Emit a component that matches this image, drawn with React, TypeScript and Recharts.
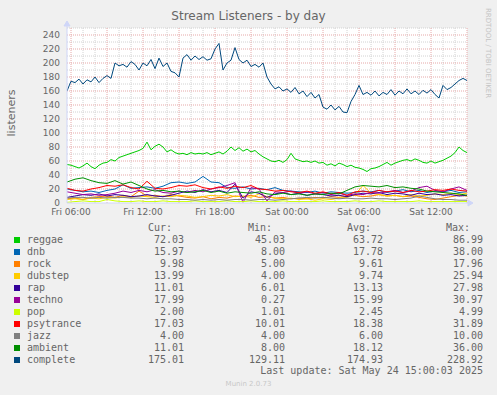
import React from 'react';
import { LineChart, Line, XAxis, YAxis, CartesianGrid, ReferenceLine, ReferenceDot } from 'recharts';

const W = 497;
const H = 395;

// time axis in hours since Fri 00:00; graph runs Fri 05:40 -> Sat 15:00
const startHour = 5 + 40 / 60;
const endHour = 39;

const xTicks = [6, 12, 18, 24, 30, 36];
const xTickLabels = ['Fri 06:00', 'Fri 12:00', 'Fri 18:00', 'Sat 00:00', 'Sat 06:00', 'Sat 12:00'];
const yTicks = [0, 20, 40, 60, 80, 100, 120, 140, 160, 180, 200, 220, 240];

// 20 minute samples
const complete = [
  160, 174, 172, 177, 170, 176, 173, 180, 172, 178,
  182, 178, 200, 196, 198, 194, 202, 198, 190, 200,
  196, 205, 192, 207, 195, 200, 188, 186, 180, 207,
  212, 204, 210, 205, 209, 204, 206, 220, 228, 190,
  200, 204, 222, 205, 200, 204, 195, 198, 194, 200,
  180, 170, 163, 166, 160, 163, 158, 165, 156, 160,
  152, 158, 150, 155, 137, 134, 140, 133, 138, 130,
  129, 145, 155, 168, 155, 158, 154, 160, 153, 158,
  155, 162, 154, 160, 156, 163, 156, 160, 155, 161,
  157, 162, 155, 150, 168, 162, 165, 170, 175, 178,
  175,
];
const reggae = [
  55, 54, 52, 50, 53, 57, 52, 49, 54, 57,
  58, 62, 60, 65, 67, 69, 71, 73, 75, 78,
  87, 76, 81, 84, 80, 73, 76, 72, 70, 71,
  69, 72, 70, 71, 70, 72, 69, 71, 73, 70,
  74, 80, 75, 79, 74, 77, 73, 75, 70, 66,
  63, 60, 59, 61, 58, 62, 71, 63, 61, 59,
  60, 58, 60, 57, 58, 54, 56, 53, 57, 55,
  52, 54, 51, 50, 48, 45, 49, 50, 52, 55,
  58, 54, 57, 59, 61, 62, 60, 63, 61, 58,
  57, 60, 57, 59, 61, 64, 67, 72, 80, 75,
  72,
];

// 40 minute samples
const dnb = [
  20, 18, 16, 17, 15, 18, 20, 26, 21, 22, 23, 21, 24, 29, 30, 28, 30, 38, 30, 29,
  22, 21, 23, 20, 21, 19, 22, 18, 17, 16, 15, 17, 14, 16, 15, 14, 15, 17, 16, 18,
  15, 17, 19, 16, 18, 15, 17, 16, 18, 15, 16,
];
const rock = [
  6, 7, 5, 8, 9, 10, 8, 11, 9, 17, 10, 11, 9, 12, 10, 8, 7, 9, 6, 8,
  7, 10, 9, 11, 8, 9, 7, 8, 6, 7, 6, 8, 7, 9, 8, 10, 11, 9, 10, 12,
  10, 11, 9, 10, 8, 6, 5, 7, 9, 11, 10,
];
const dubstep = [
  5, 6, 5, 7, 6, 8, 7, 9, 8, 10, 9, 8, 10, 9, 11, 10, 8, 9, 11, 10,
  12, 9, 10, 8, 13, 9, 7, 6, 7, 5, 6, 4, 6, 5, 7, 8, 12, 25, 14, 12,
  10, 11, 9, 12, 10, 11, 13, 12, 14, 12, 14,
];
const rap = [
  8, 10, 12, 11, 13, 10, 12, 11, 9, 10, 12, 10, 9, 11, 14, 17, 15, 19, 16, 18,
  15, 27, 7, 16, 14, 8, 13, 15, 12, 14, 11, 13, 12, 10, 11, 9, 12, 14, 13, 15,
  12, 14, 13, 11, 14, 12, 13, 11, 12, 10, 11,
];
const techno = [
  16, 14, 12, 13, 11, 12, 14, 17, 15, 18, 16, 19, 15, 14, 17, 15, 18, 16, 20, 22,
  25, 29, 1, 22, 20, 3, 16, 15, 17, 14, 16, 13, 15, 12, 14, 11, 13, 12, 15, 14,
  16, 18, 15, 17, 22, 24, 18, 16, 20, 23, 18,
];
const pop = [
  1, 2, 3, 2, 2, 5, 3, 2, 2, 3, 2, 2, 3, 2, 2, 2, 3, 2, 2, 2,
  3, 2, 2, 3, 2, 2, 2, 3, 2, 2, 2, 2, 3, 2, 2, 2, 3, 2, 2, 3,
  2, 2, 2, 2, 3, 2, 2, 2, 2, 2, 2,
];
const psytrance = [
  21, 18, 17, 20, 22, 25, 24, 26, 22, 20, 31, 21, 20, 22, 25, 24, 26, 22, 20, 23,
  21, 24, 22, 25, 20, 19, 17, 18, 16, 15, 17, 14, 16, 13, 15, 11, 16, 17, 15, 18,
  16, 17, 15, 18, 16, 17, 19, 18, 20, 18, 17,
];
const jazz = [
  7, 8, 8, 7, 8, 7, 8, 8, 7, 7, 6, 7, 6, 6, 5, 5, 4, 5, 4, 5,
  4, 5, 5, 4, 5, 5, 4, 5, 6, 7, 8, 7, 8, 7, 6, 7, 6, 6, 7, 6,
  6, 5, 6, 7, 10, 8, 6, 5, 5, 4, 4,
];
const ambient = [
  30, 34, 36, 32, 29, 28, 32, 27, 30, 25, 20, 17, 18, 16, 17, 15, 16, 18, 15, 17,
  14, 16, 15, 14, 16, 13, 12, 14, 12, 13, 11, 13, 12, 14, 13, 18, 23, 25, 24, 23,
  25, 22, 23, 21, 20, 17, 16, 15, 14, 13, 11,
];

const seriesNames = ['reggae', 'dnb', 'rock', 'dubstep', 'rap', 'techno', 'pop', 'psytrance', 'jazz', 'ambient', 'complete'];
const seriesColors = ['#00CC00', '#0066B3', '#FF8000', '#FFCC00', '#330099', '#990099', '#CCFF00', '#FF0000', '#808080', '#008F00', '#00487D'];
const curValues = ['72.03', '15.97', '9.98', '13.99', '11.01', '17.99', '2.00', '17.03', '4.00', '11.01', '175.01'];
const minValues = ['45.03', '8.00', '5.00', '4.00', '6.01', '0.27', '1.01', '10.01', '4.00', '8.00', '129.11'];
const avgValues = ['63.72', '17.78', '9.61', '9.74', '13.13', '15.99', '2.45', '18.38', '6.00', '18.12', '174.93'];
const maxValues = ['86.99', '38.00', '17.96', '25.94', '27.98', '30.97', '4.99', '31.89', '10.00', '36.00', '228.92'];

const coarse: Record<string, number[]> = { dnb, rock, dubstep, rap, techno, pop, psytrance, jazz, ambient };

const data = complete.map((v, i) => {
  const row: Record<string, number | null> = { t: startHour + i / 3, complete: v, reggae: reggae[i] };
  Object.keys(coarse).forEach((k) => {
    row[k] = i % 2 === 0 ? coarse[k][i / 2] : null;
  });
  return row;
});

const minorY: number[] = [];
for (let v = 10; v <= 250; v += 20) minorY.push(v);
const majorY = yTicks.filter((v) => v > 0);
const minorX: number[] = [];
const majorX: number[] = [];
for (let h = 6; h <= 39; h++) (h % 3 === 0 ? majorX : minorX).push(h);

const AXIS = '#CFD6F8';
const FONT = '#666666';
const sans = '"DejaVu Sans", sans-serif';
const mono = '"DejaVu Sans Mono", monospace';

const colCur = 184;
const colMin = 285;
const colAvg = 383;
const colMax = 483;

function Cell({ right, top, text }: { right: number; top: number; text: string }) {
  return (
    <span style={{ position: 'absolute', right: W - right, top, whiteSpace: 'pre' }}>{text}</span>
  );
}

export default function App() {
  return (
    <div style={{ position: 'relative', width: W, height: H, background: '#f0f0f0', overflow: 'hidden' }}>
      <style>{'body{margin:0}'}</style>
      <div style={{ position: 'absolute', left: 0, width: W, top: 9, textAlign: 'center', fontFamily: sans, fontSize: 12, lineHeight: '15px', color: FONT }}>
        Stream Listeners - by day
      </div>
      <div style={{ position: 'absolute', left: 11, top: 113, transform: 'translate(-50%, -50%) rotate(-90deg)', fontFamily: sans, fontSize: 11, color: FONT, whiteSpace: 'nowrap' }}>
        listeners
      </div>
      <div style={{ position: 'absolute', left: 488, top: 53, transform: 'translate(-50%, -50%) rotate(90deg)', fontFamily: sans, fontSize: 7, color: '#c4c4c4', whiteSpace: 'nowrap' }}>
        RRDTOOL / TOBI OETIKER
      </div>

      <div style={{ position: 'absolute', left: 0, top: 0 }}>
        <LineChart width={W} height={H} data={data} margin={{ top: 28, right: 30, bottom: 162, left: 37 }}>
          <CartesianGrid horizontal={false} vertical={false} fill="#ffffff" />
          {minorY.map((v) => (
            <ReferenceLine key={'my' + v} y={v} stroke="#d2d2d2" strokeDasharray="1 1" />
          ))}
          {minorX.map((v) => (
            <ReferenceLine key={'mx' + v} x={v} stroke="#d2d2d2" strokeDasharray="1 1" />
          ))}
          {majorY.map((v) => (
            <ReferenceLine key={'My' + v} y={v} stroke="#e6a8a8" strokeDasharray="1 1" />
          ))}
          {majorX.map((v) => (
            <ReferenceLine key={'Mx' + v} x={v} stroke="#e6a8a8" strokeDasharray="1 1" />
          ))}
          <XAxis
            dataKey="t"
            type="number"
            domain={[startHour, endHour]}
            allowDataOverflow
            ticks={xTicks}
            interval={0}
            tickFormatter={(v: number) => xTickLabels[xTicks.indexOf(v)]}
            tickSize={0}
            tickMargin={6}
            height={30}
            axisLine={{ stroke: AXIS }}
            tick={{ fill: FONT, fontSize: 9, fontFamily: sans }}
          />
          <YAxis
            type="number"
            domain={[0, 250]}
            allowDataOverflow
            ticks={yTicks}
            interval={0}
            tickSize={0}
            tickMargin={7}
            width={30}
            axisLine={{ stroke: AXIS }}
            tick={{ fill: FONT, fontSize: 9, fontFamily: sans }}
          />
          {seriesNames.map((name, idx) => (
            <Line
              key={name}
              dataKey={name}
              type="linear"
              stroke={seriesColors[idx]}
              strokeWidth={1}
              dot={false}
              activeDot={false}
              connectNulls
              isAnimationActive={false}
            />
          ))}
          <ReferenceDot
            x={startHour}
            y={250}
            ifOverflow="visible"
            shape={(p: any) => (
              <path
                d={`M${p.cx},${p.cy} L${p.cx},${p.cy - 2} M${p.cx - 3},${p.cy - 2} L${p.cx + 3},${p.cy - 2} L${p.cx},${p.cy - 7} Z`}
                fill={AXIS}
                stroke={AXIS}
              />
            )}
          />
          <ReferenceDot
            x={endHour}
            y={0}
            ifOverflow="visible"
            shape={(p: any) => (
              <path
                d={`M${p.cx},${p.cy} L${p.cx + 1},${p.cy} M${p.cx + 1},${p.cy - 3} L${p.cx + 1},${p.cy + 3} L${p.cx + 6},${p.cy} Z`}
                fill={AXIS}
                stroke={AXIS}
              />
            )}
          />
        </LineChart>
      </div>

      <div style={{ position: 'absolute', left: 0, top: 0, width: W, height: H, fontFamily: mono, fontSize: 10, lineHeight: '12px', color: FONT }}>
        <Cell right={172} top={222} text="Cur:" />
        <Cell right={272} top={222} text="Min:" />
        <Cell right={371} top={222} text="Avg:" />
        <Cell right={470} top={222} text="Max:" />
        {seriesNames.map((name, i) => {
          const top = 234 + i * 12;
          return (
            <React.Fragment key={name}>
              <span style={{ position: 'absolute', left: 14, top: top + 3, width: 6, height: 6, background: seriesColors[i] }} />
              <span style={{ position: 'absolute', left: 27, top }}>{name}</span>
              <Cell right={colCur} top={top} text={curValues[i]} />
              <Cell right={colMin} top={top} text={minValues[i]} />
              <Cell right={colAvg} top={top} text={avgValues[i]} />
              <Cell right={colMax} top={top} text={maxValues[i]} />
            </React.Fragment>
          );
        })}
        <Cell right={colMax} top={365} text="Last update: Sat May 24 15:00:03 2025" />
      </div>
      <div style={{ position: 'absolute', left: 0, width: W, top: 379, textAlign: 'center', fontFamily: sans, fontSize: 7, lineHeight: '10px', color: '#c8c8c8' }}>
        Munin 2.0.73
      </div>
    </div>
  );
}
